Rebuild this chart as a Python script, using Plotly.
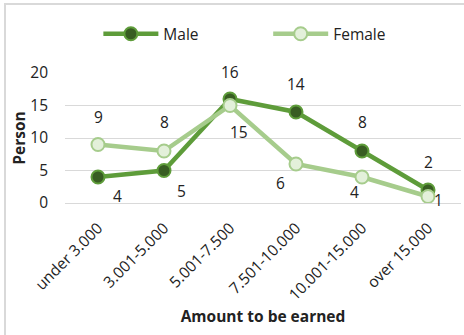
import plotly.graph_objects as go

categories = ["under 3.000", "3.001-5.000", "5.001-7.500", "7.501-10.000", "10.001-15.000", "over 15.000"]
male = [4, 5, 16, 14, 8, 2]
female = [9, 8, 15, 6, 4, 1]
yticks = [0, 5, 10, 15, 20]

# label offsets in pixels (xshift, yshift)
male_off = [(19, -19), (17, -20), (0, 27), (0, 28), (0, 29), (0, 28)]
female_off = [(0, 28), (0, 29), (9, -26), (-16, -19), (-8, -15), (10, -3)]

FONT = "Open Sans"
FS = 15.5
TXT = "#222222"
MALE_LINE = "#5E9C3A"
MALE_FILL = "#385D22"
FEM_LINE = "#A6CC8C"
FEM_FILL = "#E3F0DA"

fig = go.Figure()
fig.add_trace(go.Scatter(
    x=categories, y=male, name="Male", mode="lines+markers", legend="legend",
    line=dict(color=MALE_LINE, width=4.5),
    marker=dict(size=13, color=MALE_FILL, line=dict(color=MALE_LINE, width=2)),
    cliponaxis=False,
))
fig.add_trace(go.Scatter(
    x=categories, y=female, name="Female", mode="lines+markers", legend="legend2",
    line=dict(color=FEM_LINE, width=4.5),
    marker=dict(size=13, color=FEM_FILL, line=dict(color=FEM_LINE, width=2)),
    cliponaxis=False,
))

annotations = []
for c, v, (dx, dy) in zip(categories, male, male_off):
    annotations.append(dict(x=c, y=v, xref="x", yref="y", text=str(v), showarrow=False,
                            xshift=dx, yshift=dy, font=dict(family=FONT, size=FS, color=TXT)))
for c, v, (dx, dy) in zip(categories, female, female_off):
    annotations.append(dict(x=c, y=v, xref="x", yref="y", text=str(v), showarrow=False,
                            xshift=dx, yshift=dy, font=dict(family=FONT, size=FS, color=TXT)))

leg_common = dict(orientation="h", xref="container", yref="container", xanchor="left",
                  y=0.898, yanchor="middle", bgcolor="rgba(0,0,0,0)",
                  font=dict(family=FONT, size=FS, color=TXT), itemwidth=55)

fig.update_layout(
    width=464, height=335,
    margin=dict(l=65, r=3, t=73, b=132, autoexpand=False),
    paper_bgcolor="white", plot_bgcolor="white",
    font=dict(family=FONT, size=FS, color=TXT),
    showlegend=True,
    legend=dict(x=0.212, **leg_common),
    legend2=dict(x=0.578, **leg_common),
    annotations=annotations,
    shapes=[dict(type="rect", xref="paper", yref="paper",
                 x0=-0.1515, x1=1.05, y0=-1.2, y1=1.53,
                 line=dict(color="#D9D9D9", width=2), fillcolor="rgba(0,0,0,0)", layer="below")],
)
fig.update_xaxes(
    type="category", range=[-0.5, 5.5], tickangle=-45, showgrid=False, showline=True,
    linecolor="#D9D9D9", ticks="", ticklabelstandoff=9,
    tickfont=dict(family=FONT, size=FS, color=TXT),
    title=dict(text="<b>Amount to be earned</b>", font=dict(family=FONT, size=FS, color=TXT), standoff=0),
)
fig.update_yaxes(
    range=[0, 20], tickvals=yticks, showgrid=True, gridcolor="#D9D9D9", gridwidth=1,
    zeroline=False, showline=False, ticks="", ticklabelstandoff=16,
    tickfont=dict(family=FONT, size=FS, color=TXT),
    title=dict(text="<b>Person</b>", font=dict(family=FONT, size=FS, color=TXT), standoff=0),
)
fig.write_html("out.html")
